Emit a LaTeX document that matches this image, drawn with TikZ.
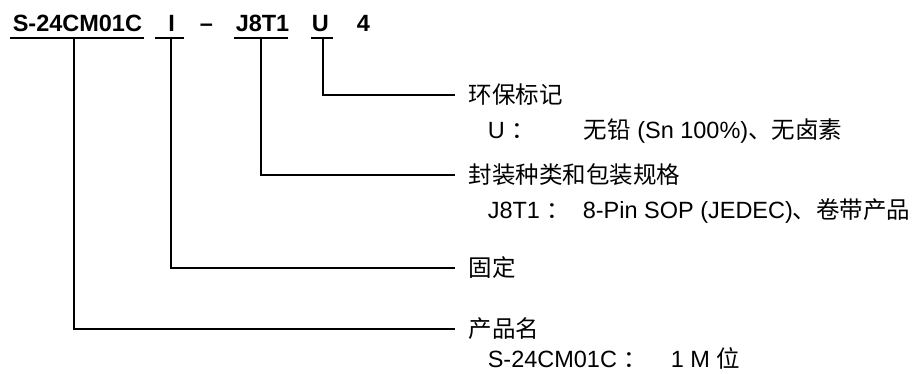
\documentclass[tikz,border=0pt]{standalone}
\usepackage{fontspec}
\setmainfont{Liberation Sans}
\newfontfamily\cjk{Noto Sans CJK SC}
\begin{document}
\begin{tikzpicture}[x=1pt,y=-1pt,line width=1.5pt,
  topcode/.style={anchor=base west,inner sep=0pt,font=\bfseries\fontsize{23.5}{28}\selectfont},
  ttl/.style={anchor=west,inner sep=0pt,font=\cjk\fontsize{23.5}{28}\selectfont},
  sublab/.style={anchor=base west,inner sep=0pt,font=\fontsize{23.5}{28}\selectfont},
  conn/.style={line width=1.5pt}]
\useasboundingbox (0,0) rectangle (915,373);
% top code
\node[topcode] (pS) at (12,31.5) {S-24CM01C};
\node[topcode] (pI) at (167.5,31.5) {I};
\node[topcode] (pD) at (199,31.5) {\char"2013};
\node[topcode] (pJ) at (235,31.5) {J8T1};
\node[topcode] (pU) at (311,31.5) {U};
\node[topcode] (p4) at (356,31.5) {4};
% underlines
\draw[conn] (10,38) -- (144,38);
\draw[conn] (155,38) -- (184,38);
\draw[conn] (234,38) -- (288,38);
\draw[conn] (311,38) -- (333,38);
\coordinate (uS) at (74,38);
\coordinate (uI) at (171,38);
\coordinate (uJ) at (261,38);
\coordinate (uU) at (323,38);
% labels
\node[ttl] (tU) at (468,95) {环保标记};
\node[sublab] (kU) at (487,138.5) {U {\cjk ：}};
\node[sublab] (vU) at (583,138.5) {{\cjk 无铅} (Sn 100\%){\cjk 、无卤素}};
\node[ttl] (tJ) at (468,175) {封装种类和包装规格};
\node[sublab] (kJ) at (487,218.5) {J8T1 {\cjk ：}};
\node[sublab] (vJ) at (582,218.5) {8-Pin SOP (JEDEC){\cjk 、卷带产品}};
\node[ttl] (tI) at (468,268) {固定};
\node[ttl] (tS) at (468,329) {产品名};
\node[sublab] (kS) at (487,367) {S-24CM01C {\cjk ：}};
\node[sublab] (vS) at (670,367) {1 M {\cjk 位}};
% connectors
\draw[conn] (uU) |- ([xshift=-13pt]tU.west);
\draw[conn] (uJ) |- ([xshift=-13pt]tJ.west);
\draw[conn] (uI) |- ([xshift=-13pt]tI.west);
\draw[conn] (uS) |- ([xshift=-13pt]tS.west);
\end{tikzpicture}
\end{document}
